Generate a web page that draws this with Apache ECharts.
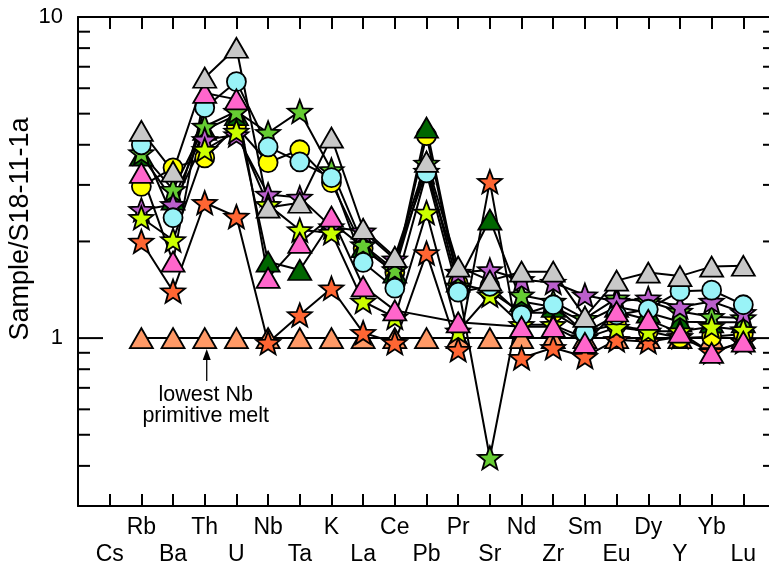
<!DOCTYPE html>
<html>
<head>
<meta charset="utf-8">
<script src="https://cdn.jsdelivr.net/npm/echarts@6/dist/echarts.min.js"></script>
<style>
  html, body { margin: 0; padding: 0; background: #fff; }
  #chart { width: 769px; height: 570px; }
</style>
</head>
<body>
<div id="chart"></div>
<script>
// Element order of the spider diagram (Cs has no analyses)
const elements = ['Cs','Rb','Ba','Th','U','Nb','Ta','K','La','Ce','Pb','Pr','Sr','Nd','Zr','Sm','Eu','Dy','Y','Yb','Lu'];

// Normalised concentrations (sample / S18-11-1a), one array per sample
const primitiveMelt = [null,1,1,1,1,1,1,1,1,1,1,1,1,1,1,1,1,1,1,1,1];
const sampleOrangeStar = [null,2.0,1.40,2.64,2.39,0.967,1.18,1.43,1.04,0.967,1.84,0.92,3.07,0.868,0.933,0.875,0.988,0.974,1.01,0.905,0.975];
const sampleYellowCircle = [null,2.97,3.39,3.64,4.56,3.52,3.86,3.05,1.90,1.60,4.27,1.48,1.40,1.20,1.20,1.05,1.10,1.05,1.00,1.01,1.03];
const sampleDarkGreenTri = [null,3.70,2.70,4.45,4.95,1.73,1.63,2.30,1.92,1.60,4.52,1.50,2.34,1.30,1.25,1.12,1.25,1.20,1.125,1.12,1.12];
const sampleGreenStar = [null,3.77,2.90,4.56,5.08,4.36,5.08,3.34,1.95,1.63,3.50,1.45,0.424,1.36,1.30,1.15,1.33,1.30,1.21,1.165,1.155];
const samplePurpleStar = [null,2.51,2.60,4.15,4.29,2.80,2.74,2.22,2.15,1.76,3.30,1.60,1.63,1.52,1.49,1.36,1.30,1.33,1.25,1.30,1.20];
const sampleLimeStar = [null,2.37,2.02,3.86,4.40,2.60,2.17,2.13,1.30,1.16,2.46,1.05,1.36,1.10,1.10,1.00,1.08,1.05,1.05,1.085,1.06];
const sampleCyanCircle = [null,4.00,2.37,5.22,6.29,3.94,3.54,3.16,1.72,1.43,3.27,1.39,1.45,1.18,1.27,1.04,1.18,1.23,1.40,1.41,1.27];
const samplePinkTri = [null,3.27,1.73,5.80,5.54,1.54,1.98,2.39,1.45,1.22,null,1.12,null,1.085,1.085,0.967,1.21,1.14,1.04,0.90,0.975];
const sampleGrayTri = [null,4.42,3.30,6.47,8.02,2.55,2.64,4.21,2.19,1.79,3.54,1.67,1.51,1.61,1.61,1.165,1.51,1.60,1.56,1.67,1.68];

// Log-axis tick marks drawn along both vertical frame edges
const yMinorTicks = [0.4,0.5,0.6,0.7,0.8,0.9,2,3,4,5,6,7,8,9];
const yMajorTicks = [1];

// Five-pointed star marker
function starPath(inner) {
  const pts = [];
  for (let i = 0; i < 10; i++) {
    const a = (-90 + i * 36) * Math.PI / 180;
    const r = i % 2 ? inner : 1;
    pts.push((50 + 50 * r * Math.cos(a)).toFixed(2) + ',' + (50 + 50 * r * Math.sin(a)).toFixed(2));
  }
  return 'path://M' + pts.join('L') + 'Z';
}
const STAR = starPath(0.42);

// Drawing order: first entry is at the bottom
const samples = [
  { name: 'primitive melt', data: primitiveMelt,     symbol: 'triangle', size: [23, 20], color: '#ff9966' },
  { name: 'orange star',    data: sampleOrangeStar,  symbol: STAR,       size: [24, 23], color: '#ff6633' },
  { name: 'yellow circle',  data: sampleYellowCircle,symbol: 'circle',   size: 19,       color: '#ffff00' },
  { name: 'dark green',     data: sampleDarkGreenTri,symbol: 'triangle', size: [23, 20], color: '#006600' },
  { name: 'green star',     data: sampleGreenStar,   symbol: STAR,       size: [24, 23], color: '#66cc33' },
  { name: 'purple star',    data: samplePurpleStar,  symbol: STAR,       size: [24, 23], color: '#bb5fcc' },
  { name: 'lime star',      data: sampleLimeStar,    symbol: STAR,       size: [24, 23], color: '#ccff00' },
  { name: 'cyan circle',    data: sampleCyanCircle,  symbol: 'circle',   size: 19,       color: '#99f3f7' },
  { name: 'pink triangle',  data: samplePinkTri,     symbol: 'triangle', size: [23, 20], color: '#ff66cc' },
  { name: 'gray triangle',  data: sampleGrayTri,     symbol: 'triangle', size: [23, 20], color: '#c8c8c8' }
];

const FONT = 'Liberation Sans, Arial, Helvetica, sans-serif';
const X_MIN = -1, X_MAX = elements.length;

const pairs = arr => arr.map((v, i) => [i, v]);

const series = [];
// connecting lines sit under every marker
samples.forEach(s => {
  series.push({
    type: 'line', name: s.name, data: pairs(s.data), connectNulls: true,
    showSymbol: false, symbol: 'none', z: 2, silent: true, animation: false,
    lineStyle: { color: '#000', width: 2 }
  });
});
samples.forEach(s => {
  series.push({
    type: 'scatter', name: s.name, data: pairs(s.data).filter(p => p[1] != null),
    symbol: s.symbol, symbolSize: s.size, z: 3, animation: false,
    itemStyle: { color: s.color, borderColor: '#000', borderWidth: 1.8, opacity: 1 }
  });
});

// inward tick marks on the left and right frame for the log axis
const tickData = yMinorTicks.map(v => [X_MIN, v, 12]).concat(yMajorTicks.map(v => [X_MIN, v, 25]));
series.push({
  type: 'custom', z: 5, silent: true, animation: false, clip: false,
  data: tickData, encode: { x: 0, y: 1 },
  renderItem: function (params, api) {
    const v = api.value(1), len = api.value(2);
    const pl = api.coord([X_MIN, v]), pr = api.coord([X_MAX, v]);
    const st = { stroke: '#000', lineWidth: 2 };
    return { type: 'group', children: [
      { type: 'line', shape: { x1: pl[0], y1: pl[1], x2: pl[0] + len, y2: pl[1] }, style: st },
      { type: 'line', shape: { x1: pr[0] - len, y1: pr[1], x2: pr[0], y2: pr[1] }, style: st }
    ] };
  }
});

const labelFor = (row) => (v) => {
  const i = Math.round(v);
  if (Math.abs(v - i) > 1e-6 || i < 0 || i >= elements.length) return '';
  return (i % 2 === row) ? elements[i] : '';
};

const axisLineStyle = { lineStyle: { color: '#000', width: 2 } };

const option = {
  animation: false,
  backgroundColor: '#fff',
  grid: { left: 78, top: 17, width: 697, height: 489, containLabel: false, outerBoundsMode: 'none' },
  xAxis: [
    { type: 'value', position: 'bottom', min: X_MIN, max: X_MAX, interval: 1,
      axisLine: Object.assign({ show: true, onZero: false }, axisLineStyle),
      axisTick: { show: true, inside: true, length: 12, lineStyle: { color: '#000', width: 2 } },
      splitLine: { show: false },
      axisLabel: { show: true, margin: 10, color: '#000', fontSize: 23, fontFamily: FONT, formatter: labelFor(1), showMinLabel: true, showMaxLabel: true, hideOverlap: false } },
    { type: 'value', position: 'bottom', offset: 0, min: X_MIN, max: X_MAX, interval: 1,
      axisLine: { show: false }, axisTick: { show: false }, splitLine: { show: false },
      axisLabel: { show: true, margin: 37, color: '#000', fontSize: 23, fontFamily: FONT, formatter: labelFor(0), showMinLabel: true, showMaxLabel: true, hideOverlap: false } },
    { type: 'value', position: 'top', min: X_MIN, max: X_MAX, interval: 1,
      axisLine: Object.assign({ show: true, onZero: false }, axisLineStyle),
      axisTick: { show: true, inside: true, length: 12, lineStyle: { color: '#000', width: 2 } },
      splitLine: { show: false }, axisLabel: { show: false } }
  ],
  yAxis: [
    { type: 'log', logBase: 10, min: 0.3, max: 10, position: 'left',
      axisLine: Object.assign({ show: true, onZero: false }, axisLineStyle),
      axisTick: { show: false }, splitLine: { show: false }, minorTick: { show: false },
      axisLabel: { show: true, margin: 15, color: '#000', fontSize: 22, fontFamily: FONT,
        showMinLabel: true, showMaxLabel: true,
        formatter: v => (Math.abs(v - 1) < 1e-6 ? '1' : (Math.abs(v - 10) < 1e-6 ? '10' : '')) } },
    { type: 'log', logBase: 10, min: 0.3, max: 10, position: 'right',
      axisLine: Object.assign({ show: true, onZero: false }, axisLineStyle),
      axisTick: { show: false }, splitLine: { show: false }, axisLabel: { show: false } }
  ],
  series: series
};

const chart = echarts.init(document.getElementById('chart'), null, { renderer: 'canvas' });
chart.setOption(option);

// Y-axis title and the annotation under the reference melt (points at the Th marker)
const thIndex = elements.indexOf('Th');
const anchor = chart.convertToPixel({ xAxisIndex: 0, yAxisIndex: 0 }, [thIndex, 1]);
const ax = anchor[0] + 2, ay = anchor[1];
chart.setOption({
  graphic: [
    { type: 'text', x: 21, y: 229, rotation: Math.PI / 2,
      style: { text: 'Sample/S18-11-1a', fill: '#000', font: '27px ' + FONT, textAlign: 'center', textVerticalAlign: 'middle' } },
    { type: 'line', shape: { x1: ax, y1: ay + 20, x2: ax, y2: ay + 43 }, style: { stroke: '#000', lineWidth: 1.3 }, z: 10 },
    { type: 'polygon', shape: { points: [[ax, ay + 11], [ax - 4, ay + 22], [ax + 4, ay + 22]] }, style: { fill: '#000' }, z: 10 },
    { type: 'text', x: ax - 1, y: ay + 57, style: { text: 'lowest Nb', fill: '#000', font: '21.5px ' + FONT, textAlign: 'center', textVerticalAlign: 'middle' }, z: 10 },
    { type: 'text', x: ax - 1, y: ay + 78, style: { text: 'primitive melt', fill: '#000', font: '21.5px ' + FONT, textAlign: 'center', textVerticalAlign: 'middle' }, z: 10 }
  ]
});
</script>
</body>
</html>
